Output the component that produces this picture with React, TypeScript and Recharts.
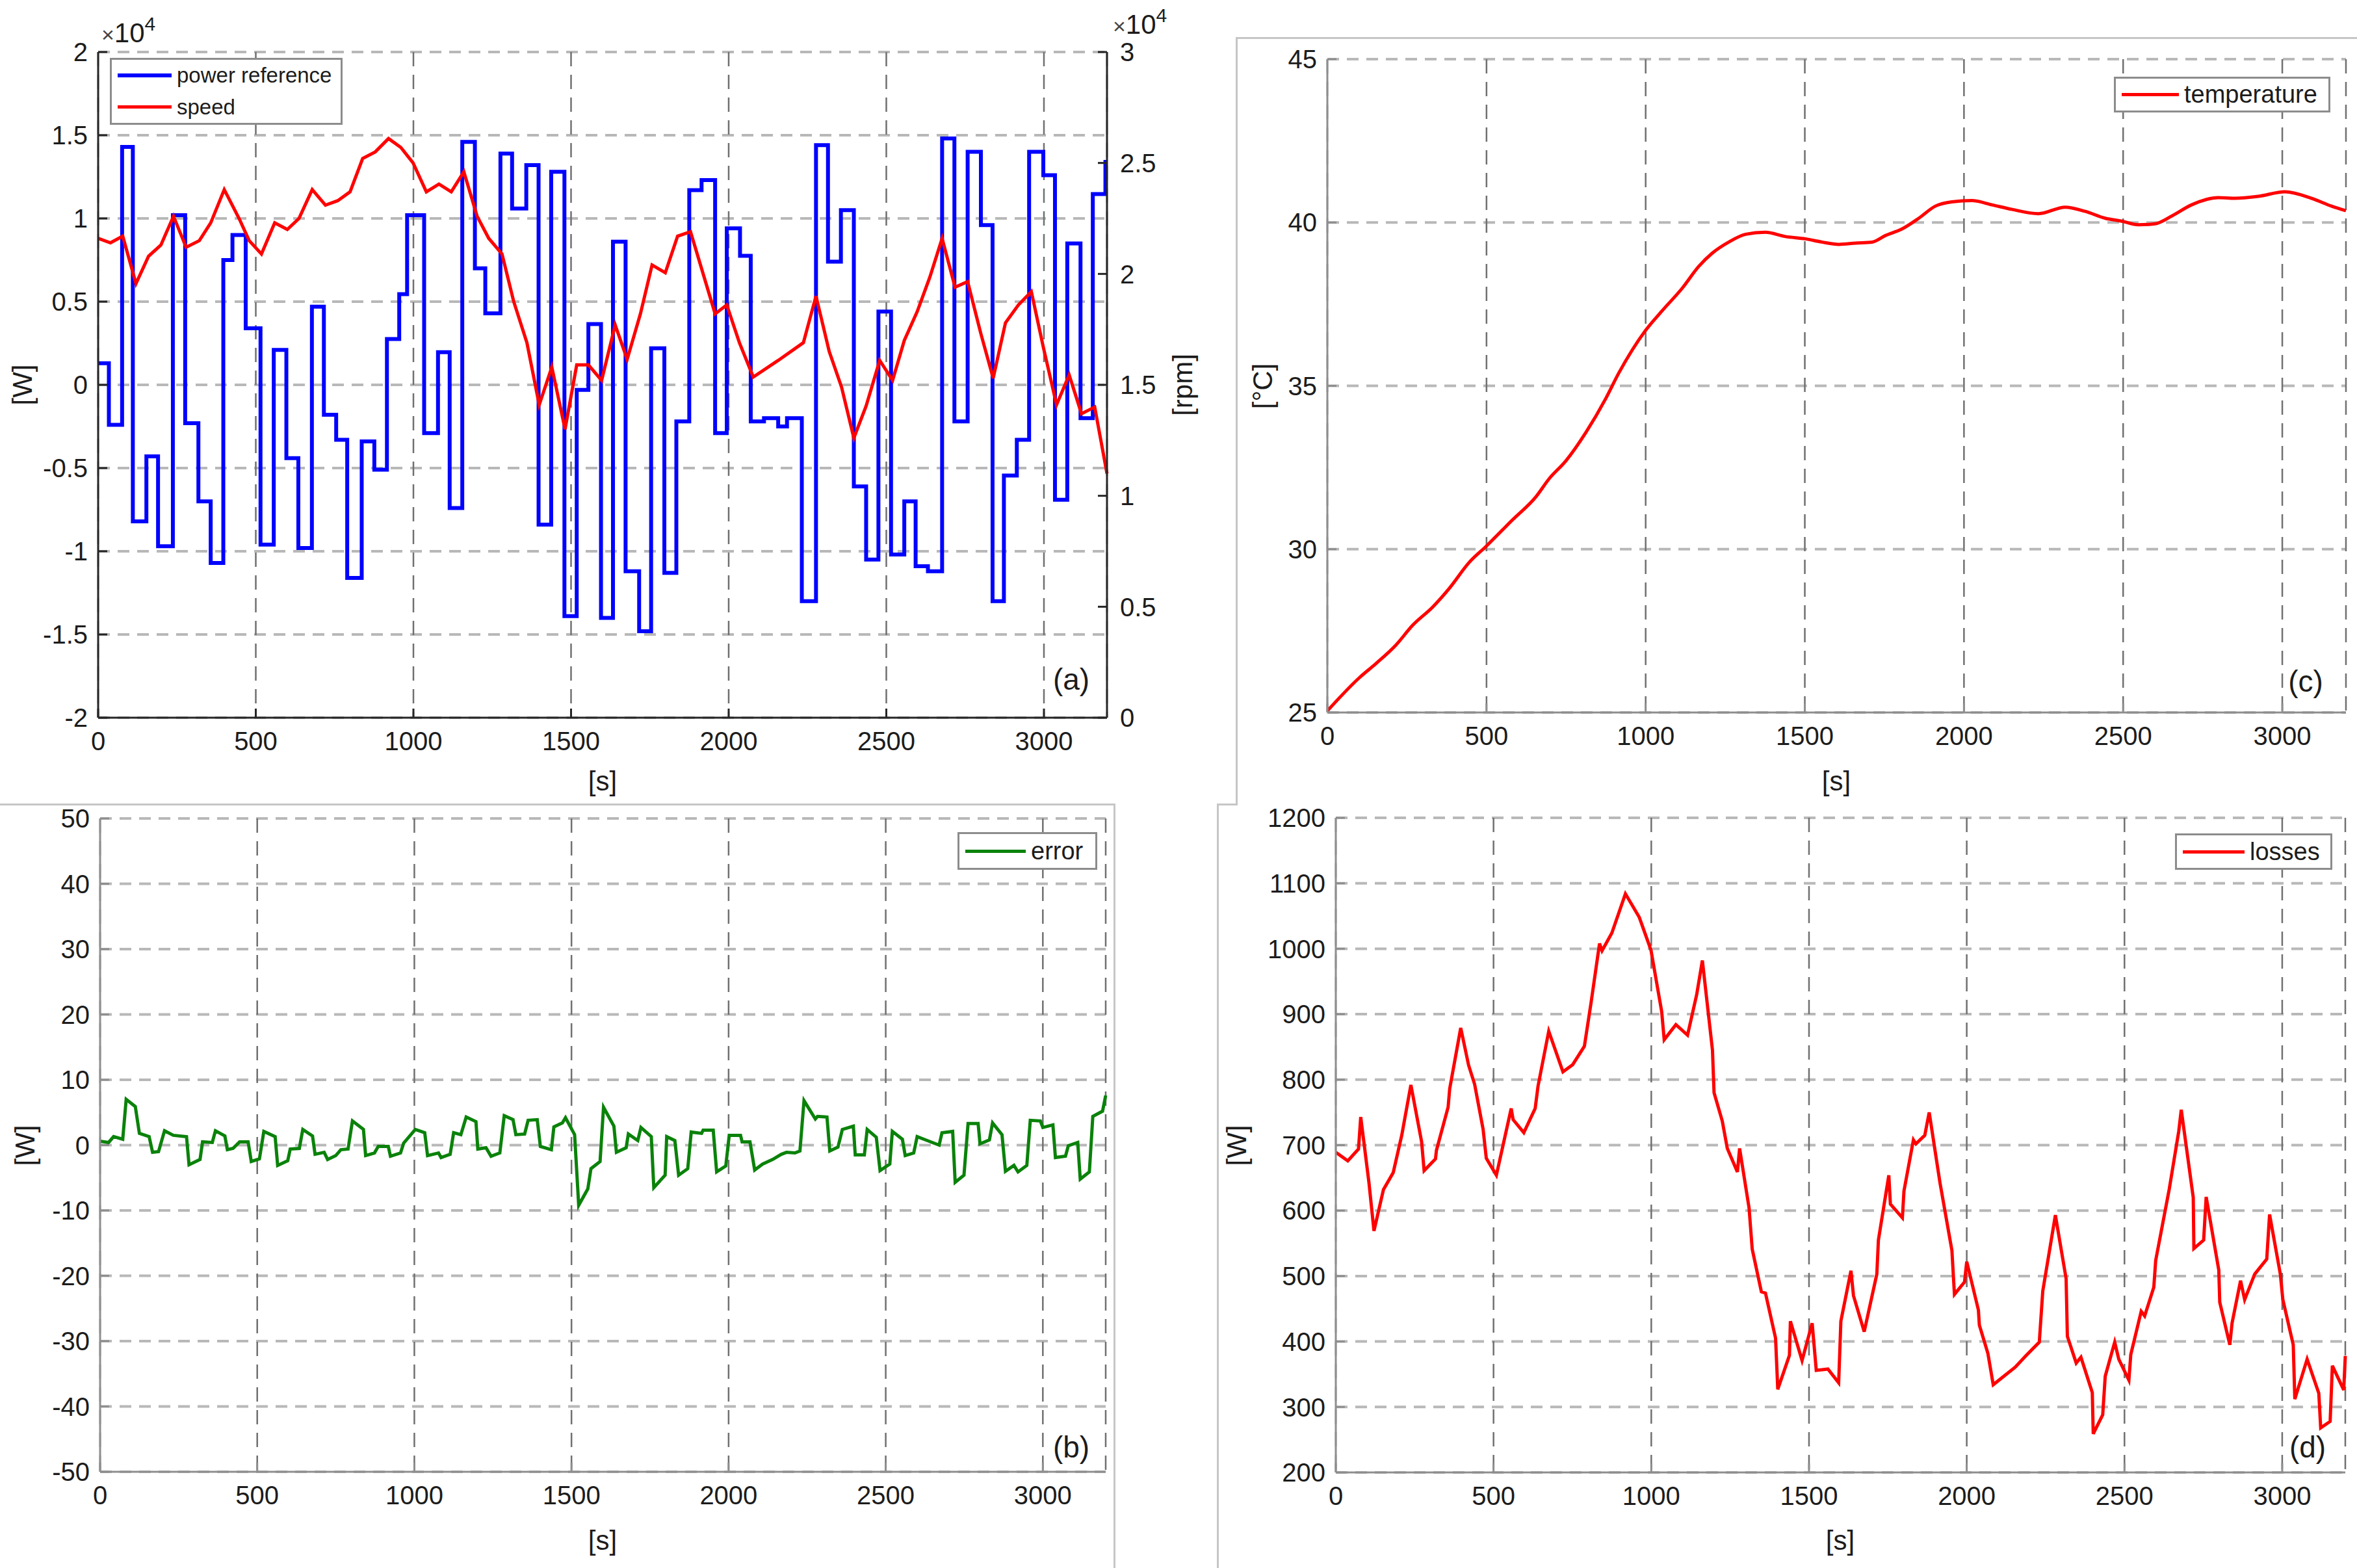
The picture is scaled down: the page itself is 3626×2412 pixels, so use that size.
import { CartesianGrid, Legend, Line, LineChart, XAxis, YAxis } from 'recharts'

// shared time axis [s]
const timeTicks = [0, 500, 1000, 1500, 2000, 2500, 3000]

// (a) power reference, piecewise constant: switching instants [s] and levels [W]
const powerTimes = [
  0, 34, 76, 110, 153, 190, 237, 276, 318, 357, 397, 426, 468, 515, 557, 597, 635, 678, 716, 755,
  790, 836, 876, 916, 955, 980, 1034, 1078, 1115, 1155, 1195, 1228, 1276, 1313, 1358, 1397, 1437,
  1479, 1518, 1555, 1595, 1633, 1673, 1716, 1754, 1796, 1834, 1875, 1914, 1957, 1994, 2036, 2070,
  2112, 2157, 2185, 2232, 2277, 2315, 2356, 2397, 2436, 2475, 2515, 2557, 2593, 2632, 2677, 2716,
  2758, 2800, 2837, 2873, 2914, 2953, 2998, 3035, 3074, 3116, 3155, 3195, 3200,
]
const powerValues = [
  1300, -2400, 14300, -8200, -4300, -9700, 10200, -2300, -7000, -10700, 7500, 9000, 3400, -9600,
  2100, -4400, -9800, 4700, -1800, -3300, -11600, -3400, -5100, 2750, 5450, 10200, -2900, 1960,
  -7400, 14600, 7000, 4300, 13900, 10600, 13200, -8400, 12800, -13900, -300, 3650, -14000, 8600,
  -11200, -14800, 2200, -11300, -2200, 11700, 12300, -2900, 9400, 7750, -2200, -2000, -2500, -2000,
  -13000, 14400, 7400, 10500, -6100, -10500, 4400, -10200, -7000, -10900, -11200, 14800, -2200,
  14000, 9600, -13000, -5450, -3300, 14000, 12600, -6900, 8500, -2000, 11460, 13400, 13400,
]

// (a) speed [rpm]
const speedTimes = [
  0, 39, 78, 120, 160, 199, 239, 279, 321, 357, 400, 447, 479, 518, 560, 600, 637, 679, 721, 760,
  799, 839, 879, 921, 960, 999, 1041, 1081, 1120, 1160, 1202, 1239, 1281, 1318, 1360, 1399, 1439,
  1481, 1518, 1555, 1597, 1640, 1678, 1720, 1757, 1799, 1838, 1879, 1957, 1994, 2034, 2078, 2157,
  2237, 2277, 2319, 2358, 2397, 2436, 2479, 2520, 2557, 2598, 2638, 2677, 2718, 2758, 2800, 2839,
  2878, 2919, 2960, 2998, 3040, 3080, 3119, 3161, 3200,
]
const speedValues = [
  21600, 21400, 21700, 19560, 20800, 21300, 22600, 21200, 21500, 22300, 23800, 22500, 21500, 20900,
  22300, 22000, 22500, 23800, 23100, 23300, 23700, 25200, 25500, 26100, 25700, 25000, 23700, 24050,
  23700, 24600, 22600, 21600, 20900, 18760, 16900, 14100, 15800, 13000, 15900, 15900, 15200, 17700,
  16150, 18200, 20400, 20050, 21700, 21900, 18200, 18600, 16900, 15350, 16100, 16900, 19000, 16500,
  14900, 12600, 14050, 16100, 15200, 17000, 18300, 19850, 21600, 19400, 19650, 17300, 15300, 17800,
  18600, 19200, 16700, 14100, 15450, 13700, 14000, 11000,
]

// (b) tracking error [W]
const errorTimes = [
  0, 27, 43, 72, 83, 112, 125, 156, 167, 186, 205, 233, 275, 283, 318, 326, 357, 367, 397, 405, 423,
  444, 471, 481, 507, 521, 557, 565, 597, 605, 634, 645, 676, 684, 713, 724, 750, 766, 789, 803, 838,
  845, 873, 885, 917, 924, 956, 966, 1003, 1033, 1042, 1077, 1085, 1114, 1125, 1148, 1165, 1196,
  1202, 1228, 1244, 1272, 1286, 1314, 1323, 1351, 1362, 1391, 1401, 1436, 1444, 1471, 1481, 1510,
  1523, 1552, 1562, 1591, 1602, 1635, 1643, 1674, 1681, 1711, 1721, 1754, 1762, 1798, 1803, 1829,
  1841, 1870, 1881, 1914, 1919, 1951, 1962, 1991, 2002, 2038, 2043, 2068, 2083, 2108, 2140, 2168,
  2184, 2211, 2227, 2240, 2276, 2283, 2313, 2322, 2348, 2362, 2397, 2403, 2432, 2441, 2470, 2482,
  2513, 2521, 2553, 2562, 2589, 2600, 2627, 2670, 2679, 2713, 2721, 2749, 2762, 2794, 2800, 2830,
  2840, 2870, 2881, 2908, 2921, 2949, 2960, 2992, 3000, 3032, 3040, 3072, 3081, 3111, 3119, 3148,
  3159, 3190, 3200,
]
const errorValues = [
  0.6, 0.4, 1.3, 0.9, 7.0, 5.9, 1.8, 1.3, -1.1, -1.0, 2.2, 1.5, 1.3, -3.0, -2.2, 0.5, 0.4, 2.2, 1.4,
  -0.7, -0.5, 0.5, 0.5, -2.5, -2.1, 2.1, 1.3, -3.1, -2.4, -0.6, -0.5, 2.4, 1.4, -1.4, -1.1, -2.2,
  -1.6, -0.7, -0.6, 3.7, 2.4, -1.6, -1.2, -0.2, -0.2, -1.7, -1.2, 0.3, 2.4, 1.9, -1.6, -1.2, -1.9,
  -1.4, 1.9, 1.6, 4.3, 3.6, -0.6, -0.4, -1.7, -1.2, 4.5, 3.9, 1.6, 1.7, 3.8, 3.9, -0.2, -0.7, 2.8,
  3.4, 4.2, 1.6, -9.2, -6.7, -3.6, -2.5, 5.8, 2.9, -1.1, -0.4, 1.7, 0.7, 2.7, 1.3, -6.5, -4.6, 1.3,
  0.7, -4.6, -3.6, 2.0, 1.8, 2.3, 2.3, -4.1, -3.2, 1.5, 1.5, 0.5, 0.5, -3.8, -2.9, -2.2, -1.4, -1.1,
  -1.2, -0.9, 6.8, 4.0, 4.4, 4.3, -0.9, -0.3, 2.4, 2.9, -1.5, -1.5, 2.4, 1.2, -3.9, -2.9, 2.1, 0.9,
  -1.6, -1.2, 1.3, 0.8, 0.0, 1.9, 2.1, -5.7, -4.6, 3.3, 3.3, 0.2, 0.8, 3.4, 1.6, -4.0, -3.1, -4.1,
  -3.1, 3.8, 3.7, 2.7, 3.1, -1.9, -1.7, -0.1, 0.4, -5.2, -4.1, 4.4, 5.2, 7.6,
]

// (c) temperature [°C]
const tempTimes = [
  0, 100, 153, 215, 268, 331, 383, 446, 498, 582, 655, 697, 749, 812, 874, 916, 958, 1000, 1052,
  1115, 1167, 1209, 1261, 1314, 1376, 1439, 1502, 1554, 1607, 1659, 1711, 1753, 1805, 1858, 1910,
  1962, 2025, 2088, 2151, 2234, 2318, 2381, 2444, 2496, 2548, 2600, 2653, 2715, 2799, 2851, 2925,
  3008, 3092, 3155, 3200,
]
const tempValues = [
  25.05, 26.06, 26.5, 27.06, 27.67, 28.23, 28.8, 29.6, 30.08, 30.9, 31.6, 32.16, 32.7, 33.57, 34.6,
  35.4, 36.1, 36.7, 37.3, 37.99, 38.66, 39.06, 39.4, 39.64, 39.7, 39.57, 39.5, 39.4, 39.33, 39.37,
  39.4, 39.6, 39.8, 40.13, 40.5, 40.63, 40.67, 40.54, 40.4, 40.27, 40.47, 40.34, 40.13, 40.04,
  39.93, 39.96, 40.2, 40.54, 40.76, 40.74, 40.8, 40.94, 40.74, 40.5, 40.36,
]

// (d) losses [W]
const lossTimes = [
  0, 38, 72, 79, 105, 121, 151, 182, 209, 238, 272, 280, 316, 319, 356, 361, 396, 421, 440, 467, 477,
  509, 556, 562, 596, 632, 641, 675, 720, 751, 788, 809, 836, 844, 875, 918, 962, 999, 1033, 1041,
  1078, 1115, 1144, 1162, 1194, 1199, 1225, 1241, 1273, 1280, 1310, 1320, 1349, 1362, 1394, 1401,
  1438, 1441, 1478, 1510, 1523, 1560, 1594, 1601, 1633, 1641, 1675, 1715, 1720, 1753, 1758, 1796,
  1801, 1831, 1839, 1867, 1881, 1915, 1953, 1961, 1993, 2000, 2037, 2040, 2067, 2084, 2154, 2187,
  2230, 2241, 2281, 2315, 2319, 2347, 2362, 2398, 2401, 2431, 2439, 2469, 2482, 2514, 2520, 2553,
  2564, 2593, 2599, 2642, 2672, 2680, 2718, 2720, 2751, 2759, 2799, 2802, 2834, 2841, 2868, 2881,
  2913, 2951, 2960, 2994, 3002, 3035, 3040, 3079, 3116, 3122, 3152, 3159, 3195, 3200,
]
const lossValues = [
  689, 676, 694, 743, 643, 569, 632, 658, 715, 792, 705, 661, 679, 692, 758, 786, 879, 822, 793, 724,
  680, 654, 756, 739, 719, 756, 790, 874, 812, 823, 851, 917, 1008, 997, 1024, 1084, 1048, 998, 904,
  861, 884, 868, 930, 982, 845, 780, 737, 695, 659, 695, 604, 541, 476, 474, 405, 327, 379, 431, 371,
  428, 356, 358, 337, 431, 508, 470, 415, 503, 555, 654, 610, 589, 630, 708, 702, 715, 750, 643, 539,
  472, 491, 522, 448, 425, 382, 334, 361, 378, 399, 477, 593, 496, 408, 367, 376, 322, 259, 288, 347,
  399, 373, 341, 380, 446, 439, 483, 524, 633, 721, 754, 620, 542, 555, 621, 509, 460, 395, 428, 493,
  464, 503, 526, 594, 503, 464, 395, 312, 373, 321, 268, 278, 363, 326, 378,
]

const powerTicks = [-20000, -15000, -10000, -5000, 0, 5000, 10000, 15000, 20000]
const speedTicks = [0, 5000, 10000, 15000, 20000, 25000, 30000]
const errorTicks = [-50, -40, -30, -20, -10, 0, 10, 20, 30, 40, 50]
const tempTicks = [25, 30, 35, 40, 45]
const lossTicks = [200, 300, 400, 500, 600, 700, 800, 900, 1000, 1100, 1200]

const FONT = "'Liberation Sans', Arial, sans-serif"
const INK = '#1c1c1c'
const tick = { fontSize: 40, fill: INK, fontFamily: FONT }
const blank = () => ''
const sci = (v: number) => String(v / 1e4)

const rows = (ts: number[], vs: number[]) => ts.map((t, i) => ({ t, v: vs[i] }))

function grid(yAxisId: string) {
  return [
    <CartesianGrid key="gh" yAxisId={yAxisId} vertical={false} stroke="#b8b8b8" strokeWidth={4} strokeDasharray="18 12" />,
    <CartesianGrid key="gv" yAxisId={yAxisId} horizontal={false} stroke="#707070" strokeWidth={2.5} strokeDasharray="22 13" />,
  ]
}

function timeAxes(stroke: string) {
  const line = { stroke, strokeWidth: 3 }
  return [
    <XAxis key="xb" dataKey="t" type="number" domain={[0, 3200]} ticks={timeTicks} interval={0} height={60}
      tick={tick} tickSize={-14} tickMargin={36} axisLine={line} tickLine={line} />,
    <XAxis key="xt" xAxisId="top" orientation="top" dataKey="t" type="number" domain={[0, 3200]} ticks={timeTicks}
      interval={0} height={0} tickFormatter={blank} tickSize={-14} axisLine={line} tickLine={line} />,
  ]
}

function valueAxes(stroke: string, domain: [number, number], ticks: number[], width: number) {
  const line = { stroke, strokeWidth: 3 }
  return [
    <YAxis key="yl" yAxisId="l" type="number" domain={domain} ticks={ticks} interval={0} width={width}
      tick={tick} tickSize={-14} tickMargin={30} axisLine={line} tickLine={line} />,
    <YAxis key="yr" yAxisId="r" orientation="right" type="number" domain={domain} ticks={ticks} interval={0}
      width={0} tickFormatter={blank} tickSize={-14} axisLine={line} tickLine={line} />,
  ]
}

type Item = { label: string; color: string; w: number }

function LegendBox({ items, fontSize, lineLen, rowH }: { items: Item[]; fontSize: number; lineLen: number; rowH: number }) {
  return (
    <div style={{
      boxSizing: 'border-box', width: '100%', height: '100%', border: '3px solid #8c8c8c', background: '#fff',
      display: 'flex', flexDirection: 'column', justifyContent: 'center', paddingLeft: 9,
      fontFamily: FONT, fontSize, color: INK,
    }}>
      {items.map((it) => (
        <div key={it.label} style={{ display: 'flex', alignItems: 'center', height: rowH, whiteSpace: 'nowrap' }}>
          <span style={{ width: lineLen, borderTop: `${it.w}px solid ${it.color}`, marginRight: 8 }} />
          <span>{it.label}</span>
        </div>
      ))}
    </div>
  )
}

function Note({ x, y, size = 42, rotate, children }: { x: number; y: number; size?: number; rotate?: boolean; children: React.ReactNode }) {
  return (
    <div style={{
      position: 'absolute', left: x, top: y, lineHeight: 1, whiteSpace: 'nowrap', fontFamily: FONT,
      fontSize: size, color: INK, transform: `translate(-50%, -50%)${rotate ? ' rotate(-90deg)' : ''}`,
    }}>
      {children}
    </div>
  )
}

function Exponent({ x, y }: { x: number; y: number }) {
  return (
    <div style={{ position: 'absolute', left: x, top: y, lineHeight: 1, whiteSpace: 'nowrap', fontFamily: FONT, fontSize: 42, color: INK }}>
      <span style={{ fontSize: 34, color: '#444' }}>×</span>10
      <span style={{ fontSize: 30, position: 'relative', top: -18 }}>4</span>
    </div>
  )
}

const place = (left: number, top: number) => ({ position: 'absolute' as const, left, top })
const frame = '3px solid #c6c6c6'

export default function App() {
  const dark = '#262626'
  const gray = '#8e8e8e'
  return (
    <div style={{ position: 'absolute', left: 0, top: 0, width: 3626, height: 2412, background: '#fff', overflow: 'hidden' }}>
      <div style={{ position: 'absolute', left: 0, top: 1236, width: 1716, height: 1176, borderTop: frame, borderRight: frame, boxSizing: 'border-box' }} />
      <div style={{ position: 'absolute', left: 1901, top: 57, width: 1725, height: 1182, borderTop: frame, borderLeft: frame, boxSizing: 'border-box' }} />
      <div style={{ position: 'absolute', left: 1872, top: 1236, width: 32, height: 1176, borderTop: frame, borderLeft: frame, boxSizing: 'border-box' }} />

      {/* (a) power reference and speed */}
      <div style={place(0, 0)}>
        <LineChart width={1900} height={1240} margin={{ top: 80, right: 87, bottom: 76, left: 31 }}>
          {grid('p')}
          {timeAxes(dark)}
          <YAxis yAxisId="p" type="number" domain={[-20000, 20000]} ticks={powerTicks} interval={0} width={120}
            tick={tick} tickSize={-14} tickMargin={30} tickFormatter={sci}
            axisLine={{ stroke: dark, strokeWidth: 3 }} tickLine={{ stroke: dark, strokeWidth: 3 }} />
          <YAxis yAxisId="s" orientation="right" type="number" domain={[0, 30000]} ticks={speedTicks} interval={0}
            width={110} tick={tick} tickSize={-14} tickMargin={34} tickFormatter={sci}
            axisLine={{ stroke: dark, strokeWidth: 3 }} tickLine={{ stroke: dark, strokeWidth: 3 }} />
          <Line data={rows(powerTimes, powerValues)} yAxisId="p" dataKey="v" type="stepAfter" stroke="#0000ff"
            strokeWidth={6} dot={false} isAnimationActive={false} />
          <Line data={rows(speedTimes, speedValues)} yAxisId="s" dataKey="v" type="linear" stroke="#ff0000"
            strokeWidth={5} dot={false} isAnimationActive={false} />
          <Legend verticalAlign="middle" align="center" layout="horizontal"
            wrapperStyle={{ left: 169, top: 89, width: 358, height: 103 }}
            content={() => (
              <LegendBox fontSize={33} lineLen={83} rowH={49} items={[
                { label: 'power reference', color: '#0000ff', w: 6 },
                { label: 'speed', color: '#ff0000', w: 5 },
              ]} />
            )} />
        </LineChart>
      </div>

      {/* (b) error */}
      <div style={place(0, 1200)}>
        <LineChart width={1900} height={1212} margin={{ top: 59, right: 199, bottom: 88, left: 34 }}>
          {grid('l')}
          {timeAxes(gray)}
          {valueAxes(gray, [-50, 50], errorTicks, 120)}
          <Line data={rows(errorTimes, errorValues)} yAxisId="l" dataKey="v" type="linear" stroke="#0a820a"
            strokeWidth={5} dot={false} isAnimationActive={false} />
          <Legend verticalAlign="middle" align="center" layout="horizontal"
            wrapperStyle={{ left: 1473, top: 80, width: 215, height: 58 }}
            content={() => (
              <LegendBox fontSize={38} lineLen={93} rowH={50} items={[{ label: 'error', color: '#0a820a', w: 5 }]} />
            )} />
        </LineChart>
      </div>

      {/* (c) temperature */}
      <div style={place(1880, 0)}>
        <LineChart width={1746} height={1240} margin={{ top: 91, right: 17, bottom: 84, left: 42 }}>
          {grid('l')}
          {timeAxes(gray)}
          {valueAxes(gray, [25, 45], tempTicks, 120)}
          <Line data={rows(tempTimes, tempValues)} yAxisId="l" dataKey="v" type="monotone" stroke="#ff0000"
            strokeWidth={5} dot={false} isAnimationActive={false} />
          <Legend verticalAlign="middle" align="center" layout="horizontal"
            wrapperStyle={{ left: 1372, top: 118, width: 333, height: 55 }}
            content={() => (
              <LegendBox fontSize={38} lineLen={88} rowH={48} items={[{ label: 'temperature', color: '#ff0000', w: 5 }]} />
            )} />
        </LineChart>
      </div>

      {/* (d) losses */}
      <div style={place(1880, 1200)}>
        <LineChart width={1746} height={1212} margin={{ top: 58, right: 18, bottom: 87, left: 45 }}>
          {grid('l')}
          {timeAxes(gray)}
          {valueAxes(gray, [200, 1200], lossTicks, 130)}
          <Line data={rows(lossTimes, lossValues)} yAxisId="l" dataKey="v" type="linear" stroke="#ff0000"
            strokeWidth={5} dot={false} isAnimationActive={false} />
          <Legend verticalAlign="middle" align="center" layout="horizontal"
            wrapperStyle={{ left: 1466, top: 82, width: 242, height: 56 }}
            content={() => (
              <LegendBox fontSize={38} lineLen={95} rowH={48} items={[{ label: 'losses', color: '#ff0000', w: 5 }]} />
            )} />
        </LineChart>
      </div>

      <Exponent x={156} y={30} />
      <Exponent x={1712} y={17} />

      <Note x={35} y={592} rotate>[W]</Note>
      <Note x={927} y={1202}>[s]</Note>
      <Note x={1820} y={592} rotate>[rpm]</Note>
      <Note x={39} y={1762} rotate>[W]</Note>
      <Note x={927} y={2370}>[s]</Note>
      <Note x={1943} y={594} rotate>[°C]</Note>
      <Note x={2825} y={1202}>[s]</Note>
      <Note x={1903} y={1762} rotate>[W]</Note>
      <Note x={2831} y={2370}>[s]</Note>

      <Note x={1648} y={1045} size={46}>(a)</Note>
      <Note x={1648} y={2226} size={46}>(b)</Note>
      <Note x={3547} y={1048} size={46}>(c)</Note>
      <Note x={3550} y={2226} size={46}>(d)</Note>
    </div>
  )
}
